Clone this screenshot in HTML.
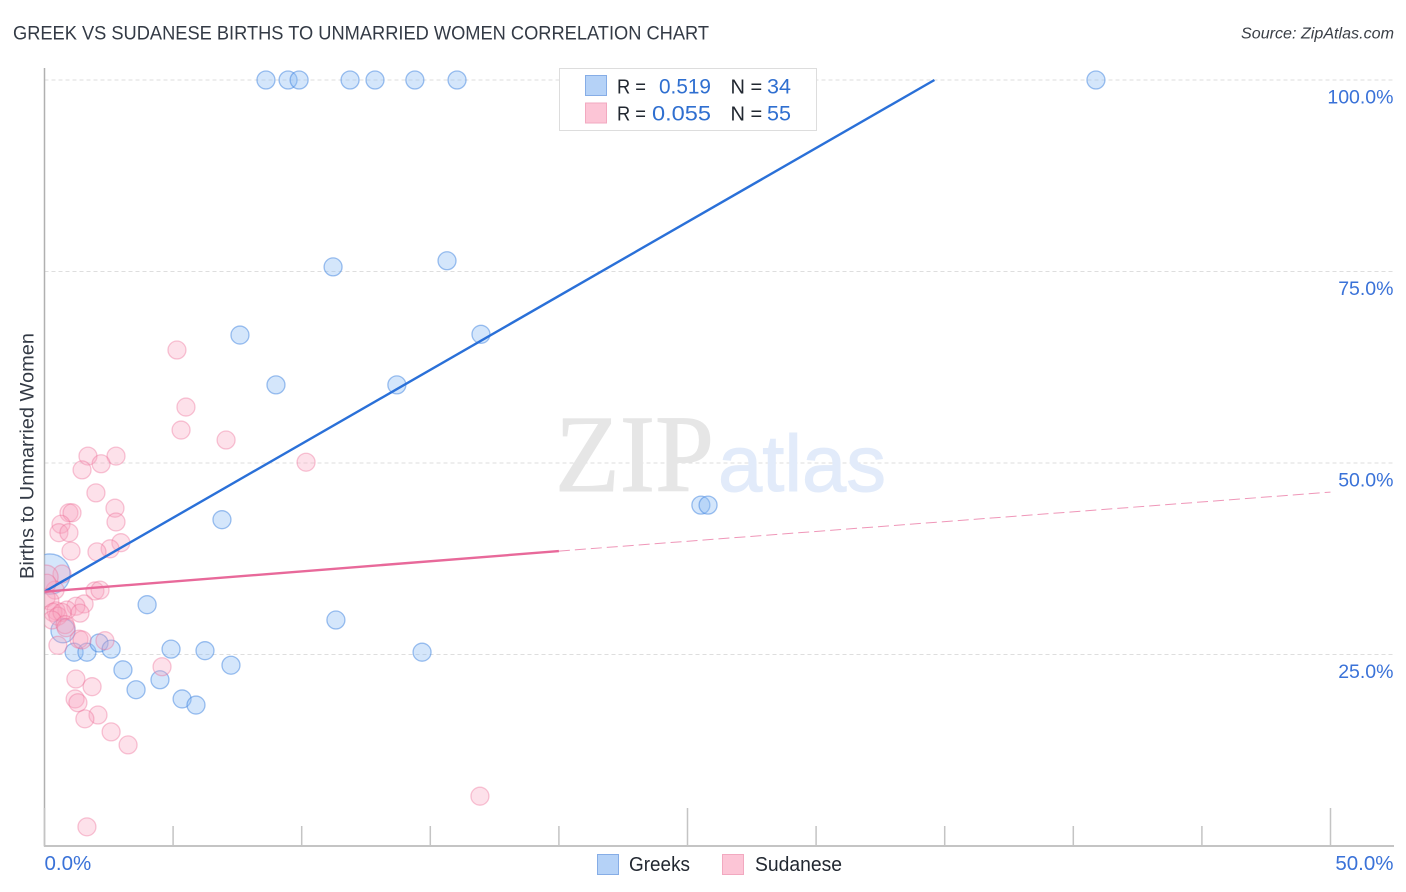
<!DOCTYPE html>
<html lang="en">
<head>
<meta charset="utf-8">
<title>Greek vs Sudanese Births to Unmarried Women Correlation Chart</title>
<style>
html,body{margin:0;padding:0;background:#fff;}
svg{display:block;font-family:"Liberation Sans",sans-serif;}
</style>
</head>
<body>
<svg id="chart" xmlns="http://www.w3.org/2000/svg" width="1406" height="892" viewBox="0 0 1406 892">
  <defs>
    <clipPath id="plot-clip"><rect x="44.5" y="60" width="1350" height="786"></rect></clipPath>
  </defs>
  <rect width="1406" height="892" fill="#ffffff"></rect>
  <text x="13" y="39.5" font-size="19.5" fill="#333a45" textLength="696" lengthAdjust="spacingAndGlyphs">GREEK VS SUDANESE BIRTHS TO UNMARRIED WOMEN CORRELATION CHART</text>
  <text x="1241" y="38.5" font-size="15.5" font-style="italic" fill="#3a3f47" textLength="153" lengthAdjust="spacingAndGlyphs">Source: ZipAtlas.com</text>
  <text transform="translate(33.5 579) rotate(-90)" font-size="19" fill="#333a45" textLength="246" lengthAdjust="spacingAndGlyphs">Births to Unmarried Women</text>
  <g id="grid-layer"></g>
  <g>
    <text x="555" y="491" font-family="'Liberation Serif',serif" font-size="110" fill="#e6e6e6" stroke="#e6e6e6" stroke-width="1" textLength="159" lengthAdjust="spacingAndGlyphs">ZIP</text>
    <text x="718" y="491" font-size="80" fill="#e2ebfa" stroke="#e2ebfa" stroke-width="1" textLength="168" lengthAdjust="spacingAndGlyphs">atlas</text>
  </g>
  <g id="axis-layer"></g>
  <g id="point-layer" clip-path="url(#plot-clip)"></g>
  <g id="line-layer" clip-path="url(#plot-clip)"></g>
  <g id="label-layer"></g>

  <g>
    <rect x="559.5" y="68.5" width="257" height="62" fill="#ffffff" stroke="#dddddd"></rect>
    <rect x="585.5" y="75.5" width="21" height="20" fill="#b5d2f7" stroke="#86ade6"></rect>
    <rect x="585.5" y="103" width="21" height="20" fill="#fcc5d6" stroke="#f2a9c0"></rect>
    <g font-size="20" fill="#222831">
      <text x="617" y="93.5" textLength="29" lengthAdjust="spacingAndGlyphs">R =</text>
      <text x="730.5" y="93.5">N =</text>
      <text x="617" y="120.5" textLength="29" lengthAdjust="spacingAndGlyphs">R =</text>
      <text x="730.5" y="120.5">N =</text>
    </g>
    <g font-size="21.5" fill="#2f6fd0">
      <text x="659" y="93.5" textLength="52" lengthAdjust="spacingAndGlyphs">0.519</text>
      <text x="767" y="93.5">34</text>
      <text x="652" y="120.5" textLength="59" lengthAdjust="spacingAndGlyphs">0.055</text>
      <text x="767" y="120.5">55</text>
    </g>
  </g>

  <g>
    <rect x="597.5" y="854.5" width="21" height="20" fill="#b5d2f7" stroke="#86ade6"></rect>
    <text x="629" y="871" font-size="20" fill="#222831" textLength="61" lengthAdjust="spacingAndGlyphs">Greeks</text>
    <rect x="722.5" y="854.5" width="21" height="20" fill="#fcc5d6" stroke="#f2a9c0"></rect>
    <text x="755" y="871" font-size="20" fill="#222831" textLength="87" lengthAdjust="spacingAndGlyphs">Sudanese</text>
  </g>
</svg>
<script>
const xTickValues = [0,5,10,15,20,25,30,35,40,45,50];
const xMajorTicks = [0,25,50];
const xTickLabels = ["0.0%","50.0%"];
const xTickLabelValues = [0,50];
const yTickValues = [25,50,75,100];
const yTickLabels = ["25.0%","50.0%","75.0%","100.0%"];

const greekX = [8.61,9.47,9.9,11.88,12.85,14.4,16.04,40.88,11.22,15.65,7.6,9.0,13.7,16.97,6.9,25.52,25.8,3.99,11.33,4.92,6.24,7.25,14.68,1.15,1.65,2.12,2.59,3.05,3.56,4.49,5.35,5.89,0.21,0.72];
const greekY = [100,100,100,100,100,100,100,100,75.6,76.4,66.7,60.2,60.2,66.8,42.6,44.5,44.5,31.5,29.5,25.7,25.5,23.6,25.3,25.3,25.3,26.5,25.7,23.0,20.4,21.7,19.2,18.4,35.5,28.1];
const greekWeight = [1,1,1,1,1,1,1,1,1,1,1,1,1,1,1,1,1,1,1,1,1,1,1,1,1,1,1,1,1,1,1,1,5,1.8];

const sudaneseX = [5.15,5.5,5.31,7.06,10.17,1.69,2.78,2.2,1.46,2.0,2.74,2.78,0.95,1.07,0.64,0.56,0.95,2.97,2.55,2.04,1.03,0.68,1.96,2.16,0.41,0.06,0.06,0.21,1.54,1.22,0.87,0.45,0.33,1.38,0.52,0.68,0.29,0.8,1.34,1.46,2.35,0.52,4.57,1.22,1.85,1.19,1.3,2.08,1.57,2.59,3.25,16.93,1.65,0.1,0.84];
const sudaneseY = [64.75,57.3,54.3,53.0,50.1,50.9,50.9,49.9,49.1,46.1,44.1,42.3,43.5,43.5,42.0,40.9,40.9,39.6,38.8,38.4,38.5,35.5,33.3,33.4,33.4,35.1,32.4,32.0,31.6,31.3,30.8,30.7,30.5,30.4,30.0,30.5,29.5,28.9,27.0,26.9,26.8,26.2,23.4,21.8,20.8,19.2,18.7,17.1,16.6,14.9,13.2,6.5,2.5,34.3,28.5];
const sudaneseWeight = [1,1,1,1,1,1,1,1,1,1,1,1,1,1,1,1,1,1,1,1,1,1,1,1,1,1.8,1,1,1,1,1,1,1,1,1,1,1,1,1,1,1,1,1,1,1,1,1,1,1,1,1,1,1,1,1];

const greekTrendX = [0,34.6];
const greekTrendY = [33.2,100];
const sudaneseTrendX = [0,20];
const sudaneseTrendY = [33.2,38.5];
const sudaneseProjectionX = [20,50];
const sudaneseProjectionY = [38.5,46.2];

function xScale(v){ return 44.5 + v * 25.72; }
function yScale(v){ return 846 - v * 7.66; }
function radius(w){ return 9 * Math.sqrt(w); }

const NS = 'http://www.w3.org/2000/svg';
function make(tag, parent, attrs){
  const el = document.createElementNS(NS, tag);
  Object.keys(attrs).forEach(function(k){ el.setAttribute(k, attrs[k]); });
  parent.appendChild(el);
  return el;
}

const gridLayer = document.getElementById('grid-layer');
const axisLayer = document.getElementById('axis-layer');
const pointLayer = document.getElementById('point-layer');
const lineLayer = document.getElementById('line-layer');
const labelLayer = document.getElementById('label-layer');

yTickValues.forEach(function(v){
  const el = make('line', gridLayer, {x1:44.5, x2:1394, y1:yScale(v), y2:yScale(v), stroke:'#dedede', 'stroke-width':1, 'stroke-dasharray':'4 3'});
  
  
});

const yAxis = make('line', axisLayer, {x1:44.5, x2:44.5, y1:68, y2:846.5, stroke:'#b0b0b0', 'stroke-width':1.5});


const xAxis = make('line', axisLayer, {x1:44, x2:1394, y1:846, y2:846, stroke:'#b0b0b0', 'stroke-width':1.5});



xTickValues.forEach(function(v){
  const top = xMajorTicks.indexOf(v) >= 0 ? 808 : 826;
  const el = make('line', axisLayer, {x1:xScale(v), x2:xScale(v), y1:top, y2:846, stroke:'#c4c4c4', 'stroke-width':1.5});
  
  
});

greekX.forEach(function(v, i){
  const el = make('circle', pointLayer, {cx:xScale(v), cy:yScale(greekY[i]), r:radius(greekWeight[i]), fill:'#8fbcf5', 'fill-opacity':0.38, stroke:'#3f83e0', 'stroke-opacity':0.5, 'stroke-width':1.3});
  
  
});
sudaneseX.forEach(function(v, i){
  const el = make('circle', pointLayer, {cx:xScale(v), cy:yScale(sudaneseY[i]), r:radius(sudaneseWeight[i]), fill:'#f8a3bd', 'fill-opacity':0.32, stroke:'#ec6d96', 'stroke-opacity':0.38, 'stroke-width':1.3});
  
  
});

const greekTrend = make('line', lineLayer, {x1:xScale(greekTrendX[0]), y1:yScale(greekTrendY[0]), x2:xScale(greekTrendX[1]), y2:yScale(greekTrendY[1]), stroke:'#2a70d8', 'stroke-width':2.4});


const sudaneseTrend = make('line', lineLayer, {x1:xScale(sudaneseTrendX[0]), y1:yScale(sudaneseTrendY[0]), x2:xScale(sudaneseTrendX[1]), y2:yScale(sudaneseTrendY[1]), stroke:'#e8699a', 'stroke-width':2.4});


const sudaneseProjection = make('line', lineLayer, {x1:xScale(sudaneseProjectionX[0]), y1:yScale(sudaneseProjectionY[0]), x2:xScale(sudaneseProjectionX[1]), y2:yScale(sudaneseProjectionY[1]), stroke:'#e8699a', 'stroke-width':1, 'stroke-opacity':0.7, 'stroke-dasharray':'11 5'});



yTickValues.forEach(function(v, i){
  const el = make('text', labelLayer, {x:1393.5, y:yScale(v) + 23.5, 'font-size':19.5, fill:'#3a72d8', 'text-anchor':'end'});
  el.textContent = yTickLabels[i];
  
  
});
xTickLabelValues.forEach(function(v, i){
  const el = make('text', labelLayer, {x: i === 0 ? xScale(v) : 1393.5, y:870, 'font-size':20.5, fill:'#3a72d8', 'text-anchor': i === 0 ? 'start' : 'end'});
  el.textContent = xTickLabels[i];
  
  
});
</script>
</body>
</html>
